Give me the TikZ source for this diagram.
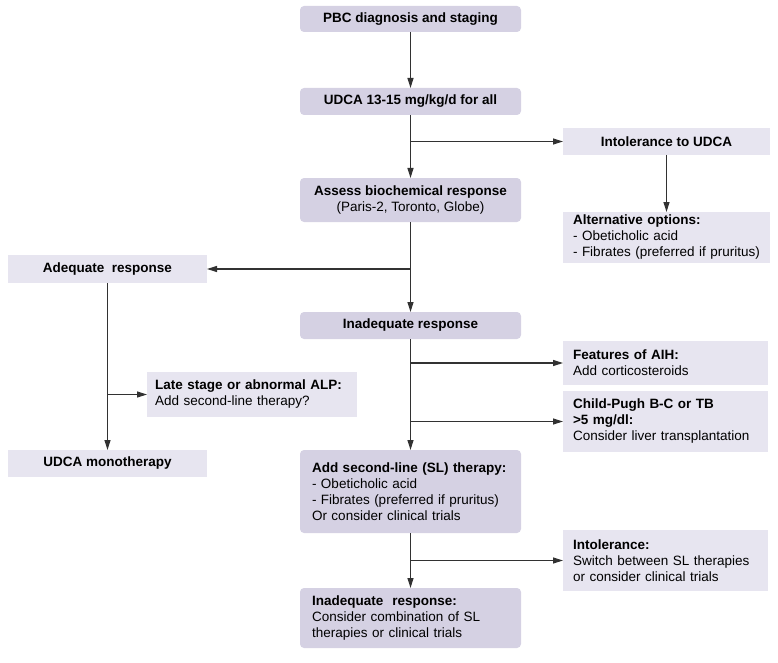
\documentclass[tikz,border=0pt]{standalone}
\usepackage{fontspec}
\setmainfont{Liberation Sans}
\usetikzlibrary{arrows.meta}
\definecolor{mainfill}{RGB}{213,209,227}
\definecolor{sidefill}{RGB}{231,229,240}
\definecolor{linec}{RGB}{50,50,50}
\begin{document}
\begin{tikzpicture}[x=1pt,y=-1pt,
  font=\fontsize{13.5}{16}\selectfont,
  mainbox/.style={fill=mainfill, rounded corners=4pt, inner sep=0pt, outer sep=0pt},
  sidebox/.style={fill=sidefill, inner sep=0pt, outer sep=0pt},
  conn/.style={draw=linec, line width=1.2pt, -{Triangle[length=10pt,width=6pt]}}]
\useasboundingbox (0,0) rectangle (778,663);
% main column
\node[mainbox, minimum width=221pt, minimum height=26pt, align=center] (pbc) at (410.5,19) {\textbf{PBC diagnosis and staging}};
\node[mainbox, minimum width=221pt, minimum height=27pt, align=center] (udca) at (410.5,101.5) {\textbf{UDCA 13-15 mg/kg/d for all}};
\node[mainbox, minimum width=221pt, minimum height=44pt, align=center] (assess) at (410.5,200) {\textbf{Assess biochemical response}\\(Paris-2, Toronto, Globe)};
\node[mainbox, minimum width=221pt, minimum height=27pt, align=center] (inad) at (410.5,325.5) {\textbf{Inadequate response}};
\node[mainbox, minimum width=221pt, minimum height=83pt, text width=197pt, align=left] (addsl) at (410.5,491.5) {\textbf{Add second-line (SL) therapy:}\\- Obeticholic acid\\\mbox{- Fibrates (preferred if pruritus)}\\Or consider clinical trials};
\node[mainbox, minimum width=221pt, minimum height=60pt, text width=197pt, align=left] (inad2) at (410.5,618) {\textbf{Inadequate\ \ response:}\\Consider combination of SL\\therapies or clinical trials};
% right column
\node[sidebox, minimum width=207pt, minimum height=27pt, align=center] (intol) at (666.5,141.5) {\textbf{Intolerance to UDCA}};
\node[sidebox, minimum width=207pt, minimum height=51pt, text width=187pt, align=left] (alt) at (666.5,237.5) {\textbf{Alternative options:}\\- Obeticholic acid\\\mbox{- Fibrates (preferred if pruritus)}};
\node[sidebox, minimum width=205pt, minimum height=44pt, text width=185pt, align=left] (aih) at (665.5,363) {\textbf{Features of AIH:}\\Add corticosteroids};
\node[sidebox, minimum width=205pt, minimum height=61pt, text width=185pt, align=left] (child) at (665.5,421.5) {\textbf{Child-Pugh B-C or TB}\\\textbf{>5 mg/dl:}\\\mbox{Consider liver transplantation}};
\node[sidebox, minimum width=205pt, minimum height=61pt, text width=185pt, align=left] (intol2) at (665.5,560.5) {\textbf{Intolerance:}\\\mbox{Switch between SL therapies}\\or consider clinical trials};
% left column
\node[sidebox, minimum width=199pt, minimum height=28pt, align=center] (adeq) at (107.5,269) {\textbf{Adequate\ \ response}};
\node[sidebox, minimum width=199pt, minimum height=27pt, align=center] (mono) at (107.5,463.5) {\textbf{UDCA monotherapy}};
\node[sidebox, minimum width=210pt, minimum height=45pt, text width=194pt, align=left] (late) at (252,394.5) {\textbf{\mbox{Late stage or abnormal ALP:}}\\Add second-line therapy?};
% connectors
\draw[conn] (pbc) -- (udca);
\draw[conn] (udca) -- (assess);
\draw[conn] (udca.south |- intol.west) -- (intol.west);
\draw[conn] (intol) -- (alt);
\draw[conn] (assess) -- (inad);
\draw[conn] (assess.south |- adeq.east) -- (adeq.east);
\draw[conn] (adeq) -- (mono);
\draw[conn] (adeq.south |- late.west) -- (late.west);
\draw[conn] (inad) -- (addsl);
\draw[conn] (inad.south |- aih.west) -- (aih.west);
\draw[conn] (inad.south |- child.west) -- (child.west);
\draw[conn] (addsl) -- (inad2);
\draw[conn] (addsl.south |- intol2.west) -- (intol2.west);
\end{tikzpicture}
\end{document}
